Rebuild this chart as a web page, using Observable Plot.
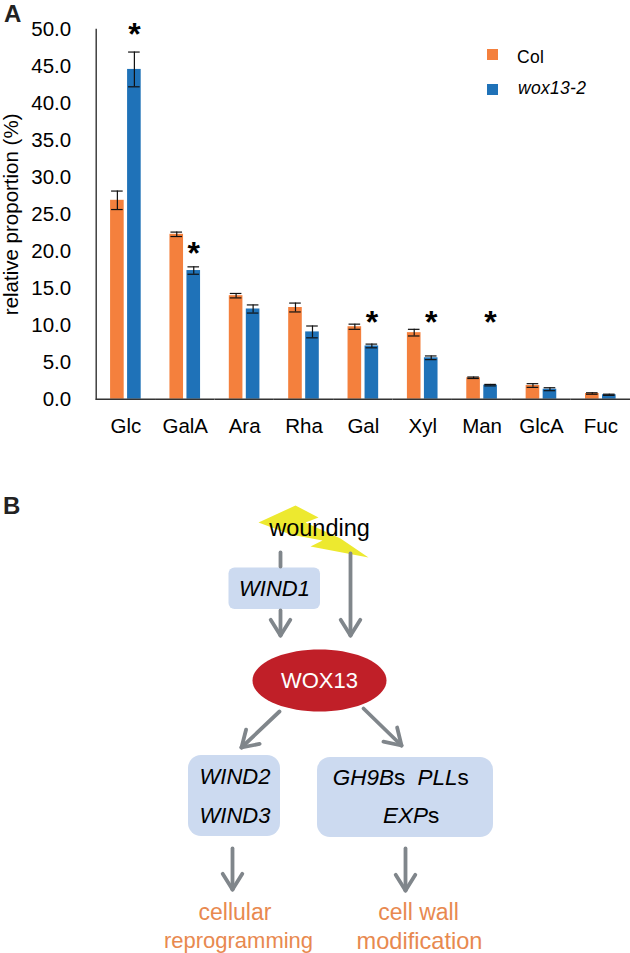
<!DOCTYPE html>
<html>
<head>
<meta charset="utf-8">
<script src="https://cdn.jsdelivr.net/npm/d3@7"></script>
<script src="https://cdn.jsdelivr.net/npm/@observablehq/plot@0.6"></script>
<style>
html,body{margin:0;padding:0;background:#fff;}
#page{position:relative;width:630px;height:953px;overflow:hidden;font-family:"Liberation Sans",Arial,sans-serif;color:#000;}
#page svg{display:block;}
.panel{position:absolute;font-weight:bold;font-size:24px;color:#222;}
.lg{position:absolute;font-size:17.5px;line-height:20px;letter-spacing:.3px;}
.sw{position:absolute;width:11px;height:11px;}
</style>
</head>
<body>
<div id="page">
  <div id="chart"></div>
  <div id="diagram"></div>
  <div class="panel" style="left:4px;top:0">A</div>
  <div class="panel" style="left:3px;top:492px">B</div>
  <div class="sw" style="left:487px;top:49px;background:#F4803D"></div>
  <div class="lg" style="left:517px;top:47px">Col</div>
  <div class="sw" style="left:487px;top:84px;background:#1F72B8"></div>
  <div class="lg" style="left:518px;top:78px;font-style:italic">wox13-2</div>
</div>
<script>
// ---- panel A data ----
const sugars = ["Glc","GalA","Ara","Rha","Gal","Xyl","Man","GlcA","Fuc"];
const genotypes = ["Col","wox13-2"];
const colMean = [26.9,22.3,14.0,12.4,9.8,9.0,2.9,1.85,0.77];
const colErr  = [1.25,0.3,0.3,0.6,0.35,0.45,0.1,0.25,0.1];
const woxMean = [44.6,17.4,12.2,9.1,7.2,5.6,1.9,1.35,0.6];
const woxErr  = [2.35,0.5,0.55,0.8,0.25,0.25,0.1,0.2,0.08];
const starSugars = ["Glc","GalA","Gal","Xyl","Man"];
const starLevels = [49.9,20.4,11.0,11.0,11.0];
const yTicks = [0,5,10,15,20,25,30,35,40,45,50];

const rows = sugars.flatMap((s,i)=>[
  {sugar:s,genotype:genotypes[0],mean:colMean[i],err:colErr[i]},
  {sugar:s,genotype:genotypes[1],mean:woxMean[i],err:woxErr[i]}
]);
const stars = starSugars.map((s,i)=>({sugar:s,genotype:genotypes[1],level:starLevels[i]}));

const chart = Plot.plot({
  width:630, height:450,
  marginTop:29, marginBottom:51.3, marginLeft:95.7, marginRight:0,
  style:{fontFamily:"Liberation Sans, Arial, sans-serif",fontSize:"20.5px",background:"transparent",color:"#000",overflow:"visible"},
  fx:{domain:sugars,padding:0,round:false,label:null},
  x:{domain:genotypes,paddingInner:0.2,paddingOuter:0.845,round:false,axis:null,label:null},
  y:{domain:[0,50],label:null},
  color:{domain:genotypes,range:["#F4803D","#1F72B8"]},
  marks:[
    Plot.axisFx({anchor:"bottom",tickSize:0,tickPadding:19,label:null}),
    Plot.axisY({ticks:yTicks,tickFormat:d3.format(".1f"),tickSize:0,tickPadding:25,
      label:"relative proportion (%)",labelAnchor:"center",labelArrow:"none",labelOffset:93}),
    Plot.barY(rows,{fx:"sugar",x:"genotype",y:"mean",fill:"genotype"}),
    Plot.ruleX(rows,{fx:"sugar",x:"genotype",y1:d=>d.mean-d.err,y2:d=>d.mean+d.err,stroke:"#111",strokeWidth:1.2}),
    Plot.tickY(rows,{fx:"sugar",x:"genotype",y:d=>d.mean+d.err,stroke:"#111",strokeWidth:1.2,insetLeft:1,insetRight:1}),
    Plot.tickY(rows,{fx:"sugar",x:"genotype",y:d=>d.mean-d.err,stroke:"#111",strokeWidth:1.2,insetLeft:1,insetRight:1}),
    Plot.text(stars,{fx:"sugar",x:"genotype",y:"level",text:()=>"*",fontSize:32,fontWeight:"bold",fill:"#000",dy:5}),
    Plot.ruleY([0],{stroke:"#333",strokeWidth:1.4}),
    Plot.frame({anchor:"left",facetAnchor:"left",stroke:"#333",strokeWidth:1.4})
  ]
});
document.getElementById("chart").append(chart);

// ---- panel B labels ----
const outcomeLabels = ["cellular","reprogramming","cell wall","modification"];
const geneLabels = ["WIND1","WIND2","WIND3"];

// ---- panel B layout, in page coordinates ----
const boltPts = [[258,522],[295,505],[318,517],[305,522],[340,538],[368,557],[310,546],[322,540],[290,534]];
const smallBoxes = [{x1:228.5,x2:320,y1:567.5,y2:609}];
const largeBoxes = [{x1:188,x2:280,y1:755,y2:836},{x1:317,x2:493,y1:757,y2:837}];
const stubs = [[280,552,280,566]];
const arrows = [
  [280,610,280,635],[350,553,350,635],
  [279,711,241,747],[363,708,401,745],
  [232,848,232,889],[405,848,405,890]
];
const wing = ([x1,y1,x2,y2],side)=>{
  const a=Math.atan2(y2-y1,x2-x1)+Math.PI+side*0.56, l=18.5;
  return [x2,y2,x2+l*Math.cos(a),y2+l*Math.sin(a)];
};
const segs = [...stubs,...arrows,...arrows.map(a=>wing(a,1)),...arrows.map(a=>wing(a,-1))];
const geneText = geneLabels.map((t,i)=>({t,x:[274,234.5,234.5][i],y:[588,776,815][i]}));
const splitItalic = [{t:"GH9B",x:393.5},{t:"PLL",x:457},{t:"EXP",x:427.5}];
const splitY = [777,777,815];
const outcomes = outcomeLabels.map((t,i)=>({t,x:[234.5,238,418,419][i],y:[912,940,912,941][i],s:[23,22,23,23.6][i]}));
const ellipseSymbol = {draw(ctx,size){
  const r=Math.sqrt(size/Math.PI), k=31/67;
  const n=72; for(let i=0;i<n;i++){const a=i/n*2*Math.PI,x=r*Math.cos(a),y=k*r*Math.sin(a); i?ctx.lineTo(x,y):ctx.moveTo(x,y);} ctx.closePath();
}};

const diagram = Plot.plot({
  width:630, height:503, margin:0,
  style:{fontFamily:"Liberation Sans, Arial, sans-serif",background:"transparent",color:"#000",overflow:"visible"},
  x:{type:"linear",domain:[0,630],axis:null},
  y:{type:"linear",domain:[450,953],range:[0,503],axis:null},
  r:{type:"identity"},
  marks:[
    Plot.line(boltPts,{x:d=>d[0],y:d=>d[1],fill:"#EDE92F",stroke:"none",curve:"linear"}),
    Plot.rect(smallBoxes,{x1:"x1",x2:"x2",y1:"y1",y2:"y2",fill:"#CCDAF0",rx:6,ry:6}),
    Plot.rect(largeBoxes,{x1:"x1",x2:"x2",y1:"y1",y2:"y2",fill:"#CCDAF0",rx:13,ry:13}),
    Plot.link(segs,{x1:d=>d[0],y1:d=>d[1],x2:d=>d[2],y2:d=>d[3],stroke:"#80868B",strokeWidth:3.8,strokeLinecap:"round",curve:"linear"}),
    Plot.dot([{x:319,y:680}],{x:"x",y:"y",r:()=>67,symbol:()=>ellipseSymbol,fill:"#C01F28",stroke:"none"}),
    Plot.text([{t:"wounding",x:319,y:527.5}],{x:"x",y:"y",text:"t",fontSize:23.5,fill:"#000"}),
    Plot.text(["WOX13"],{x:()=>319,y:()=>680,text:d=>d,fontSize:22,fill:"#fff"}),
    Plot.text(geneText,{x:"x",y:"y",text:"t",fontSize:22,fontStyle:"italic",fill:"#000"}),
    Plot.text(splitItalic,{x:"x",y:(d,i)=>splitY[i],text:"t",fontSize:22.5,fontStyle:"italic",textAnchor:"end",fill:"#000"}),
    Plot.text(splitItalic,{x:"x",y:(d,i)=>splitY[i],text:()=>"s",fontSize:22.5,textAnchor:"start",fill:"#000"}),
    Plot.text(outcomes,{x:"x",y:"y",text:"t",fontSize:d=>d.s,fill:"#E8894F"})
  ]
});
document.getElementById("diagram").append(diagram);
</script>
</body>
</html>
